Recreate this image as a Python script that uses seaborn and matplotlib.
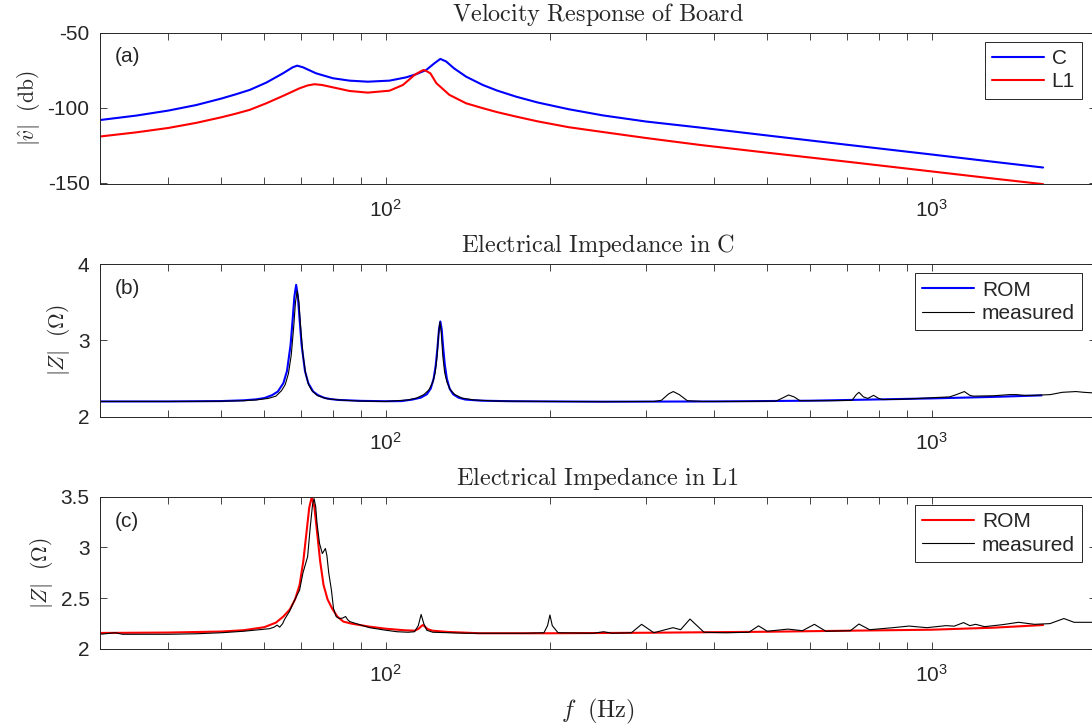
import matplotlib
matplotlib.use("Agg")
import matplotlib.pyplot as plt
import seaborn as sns
from matplotlib.ticker import NullFormatter, FixedLocator

# ---------------- data ----------------
# (a) velocity response, dB
freq_a_c = [30, 35, 40, 45, 50, 53, 56.4, 60.5, 64.9, 67.6, 68.9, 70.6, 74.6, 80.1, 85.9,
            92.8, 101.7, 109.1, 113.8, 118.7, 122.9, 126, 129.1, 133.5, 140.4, 150.7,
            160, 173.4, 190, 216.6, 250, 300, 376, 500, 700, 1000, 1300, 1600]
vel_c = [-108.3, -105.3, -102, -98.3, -94, -91.3, -88.2, -83.3, -77.1, -73.1, -72,
         -73.1, -77.1, -80.4, -82, -82.7, -82, -79.8, -77.7, -74.9, -70.4, -67.5, -69.2,
         -73.8, -79.3, -84.9, -88.6, -92.7, -96.6, -101.1, -105.2, -109.3, -113.3,
         -118.6, -124.8, -131.3, -136.2, -140]
freq_a_l1 = [30, 35, 40, 45, 50, 53, 56.4, 60.5, 64.9, 69.6, 72, 74.1, 76.5, 79, 85.9,
             92.8, 101.7, 107.6, 113, 116, 117.4, 118.8, 120.8, 123.9, 130.9, 140.4,
             150.7, 160, 173.4, 190, 216.6, 250, 300, 376, 500, 700, 1000, 1300, 1600]
vel_l1 = [-119.3, -116.5, -113.6, -110.2, -106.5, -104.2, -101.5, -97.1, -92.2, -87.1,
          -85.2, -84.4, -84.9, -86, -88.9, -90, -88.7, -84.9, -78.2, -75.8, -74.9, -75.6,
          -77.1, -83.7, -91.5, -97.1, -100.4, -103, -106, -109.2, -113.1, -116.3, -120.3,
          -124.9, -130.1, -136.1, -142.6, -147.4, -151.1]

# (b) impedance in C, ohm
freq_b_rom = [30, 40, 50, 55, 58, 60, 62, 63.5, 65, 66, 67, 67.6, 68.1, 68.6, 69.1, 69.6,
              70.2, 71.2, 72.2, 73.7, 75.2, 77.2, 79.2, 82, 90, 100, 107, 112, 116, 119,
              121, 122.5, 123.6, 124.5, 125.3, 126, 126.7, 127.5, 128.4, 129.5, 131, 133,
              136, 140, 150, 170, 200, 250, 400, 600, 1000, 1300, 1590]
z_c_rom = [2.2, 2.2, 2.205, 2.215, 2.228, 2.245, 2.283, 2.33, 2.44, 2.6, 2.94, 3.28, 3.58,
           3.73, 3.58, 3.28, 2.94, 2.6, 2.44, 2.33, 2.283, 2.248, 2.232, 2.22, 2.208,
           2.203, 2.205, 2.225, 2.25, 2.294, 2.37, 2.5, 2.68, 2.91, 3.15, 3.25, 3.15,
           2.91, 2.68, 2.5, 2.37, 2.294, 2.25, 2.225, 2.21, 2.203, 2.2, 2.197, 2.2, 2.21,
           2.24, 2.26, 2.28]
freq_b_meas = [30, 40, 50, 55, 58, 61, 63, 64.5, 65.5, 66.4, 67.2, 67.9, 68.4, 68.9, 69.4,
               69.9, 70.6, 71.4, 72.3, 73.3, 75, 78, 82, 90, 100, 110, 114, 117.5, 120,
               122, 123.3, 124.3, 125.1, 125.8, 126.5, 127.3, 128.3, 129.6, 131.5, 134,
               138, 145, 160, 200, 250, 310, 320, 330, 336.5, 345, 357, 380, 450, 519, 535,
               547, 560, 574, 650, 715, 728, 736, 750, 764, 783, 800, 812, 875, 950, 1006,
               1079, 1110, 1148, 1175, 1192, 1300, 1390, 1430, 1480, 1533, 1650, 1735,
               1838, 1900, 2000]
z_c_meas = [2.2, 2.2, 2.203, 2.21, 2.22, 2.24, 2.27, 2.342, 2.42, 2.565, 2.81, 3.18, 3.5,
            3.65, 3.5, 3.18, 2.81, 2.565, 2.42, 2.342, 2.278, 2.236, 2.22, 2.205, 2.2,
            2.22, 2.245, 2.29, 2.35, 2.45, 2.58, 2.8, 3.1, 3.24, 3.1, 2.8, 2.58, 2.45,
            2.35, 2.29, 2.245, 2.22, 2.205, 2.2, 2.197, 2.2, 2.215, 2.3, 2.33, 2.29, 2.21,
            2.2, 2.2, 2.205, 2.25, 2.285, 2.26, 2.21, 2.21, 2.215, 2.29, 2.32, 2.26, 2.24,
            2.28, 2.24, 2.225, 2.228, 2.24, 2.25, 2.26, 2.29, 2.33, 2.28, 2.27, 2.275,
            2.29, 2.29, 2.28, 2.28, 2.29, 2.32, 2.33, 2.32, 2.31]

# (c) impedance in L1, ohm
freq_c_rom = [30, 40, 50, 55, 60, 63, 65, 66.8, 68.3, 69.6, 70.7, 71.7, 72.5, 73.3, 74.1,
              74.9, 75.9, 77, 78.3, 79.8, 81.6, 83.7, 86.6, 93.5, 100, 108, 113, 115,
              116.3, 117, 117.8, 119.5, 122, 130, 148.6, 200, 300, 500, 700, 1000, 1300,
              1600]
z_l1_rom = [2.158, 2.162, 2.172, 2.185, 2.215, 2.26, 2.32, 2.39, 2.49, 2.63, 2.865, 3.16,
            3.395, 3.5, 3.395, 3.16, 2.865, 2.63, 2.49, 2.4, 2.32, 2.27, 2.25, 2.22, 2.2,
            2.185, 2.18, 2.2, 2.225, 2.236, 2.225, 2.195, 2.18, 2.168, 2.155, 2.155, 2.16,
            2.17, 2.18, 2.19, 2.21, 2.236]
freq_c_meas = [30, 32, 33, 40, 45, 50, 55, 60, 61.3, 62.5, 63.3, 64, 64.8, 65.3, 66.7, 68,
               69.6, 70.6, 72, 72.8, 73.5, 74, 74.5, 74.9, 75.7, 76.6, 77.2, 77.6, 78.1,
               78.7, 79.6, 80.3, 81.2, 82.3, 83.5, 84.5, 85.2, 86, 89.6, 93.5, 100, 105,
               110, 113, 114.8, 116.2, 117.5, 119, 122, 140, 180, 195, 198, 200, 202, 207,
               240, 250.8, 260, 282, 294.4, 310, 336, 347, 361, 383, 420, 463, 482, 500,
               546, 580, 610, 640, 710, 736, 770, 850, 909, 980, 1062, 1100, 1144, 1175,
               1204, 1250, 1350, 1443, 1543, 1647, 1747, 1823, 2000]
z_l1_meas = [2.145, 2.16, 2.145, 2.145, 2.15, 2.16, 2.175, 2.195, 2.2, 2.215, 2.235, 2.215,
             2.25, 2.29, 2.37, 2.47, 2.58, 2.75, 2.91, 3.2, 3.42, 3.48, 3.4, 3.24, 3.04,
             2.94, 2.97, 2.99, 2.92, 2.75, 2.58, 2.4, 2.32, 2.3, 2.305, 2.32, 2.29, 2.27,
             2.24, 2.21, 2.185, 2.17, 2.165, 2.17, 2.23, 2.34, 2.25, 2.185, 2.165, 2.155,
             2.155, 2.16, 2.23, 2.335, 2.23, 2.16, 2.155, 2.17, 2.155, 2.16, 2.243, 2.16,
             2.21, 2.19, 2.295, 2.165, 2.16, 2.165, 2.228, 2.175, 2.196, 2.18, 2.243, 2.175,
             2.18, 2.246, 2.19, 2.21, 2.226, 2.21, 2.23, 2.225, 2.26, 2.23, 2.243, 2.22,
             2.24, 2.263, 2.243, 2.25, 2.30, 2.263, 2.263]

# ---------------- style ----------------
sns.set_style("ticks")
plt.rcParams['font.family'] = ['Liberation Sans', 'DejaVu Sans']
plt.rcParams['mathtext.fontset'] = 'cm'
plt.rcParams['axes.unicode_minus'] = False

grey = '#262626'
W, H = 1092, 726
fig = plt.figure(figsize=(W / 100, H / 100), dpi=100)


def make_axes(top_px, bottom_px):
    left, right = 100, 1096
    return fig.add_axes([left / W, 1 - bottom_px / H, (right - left) / W,
                         (bottom_px - top_px) / H])


def style_axes(ax, ylim, yticks, title, ylabel, tag):
    ax.set_xscale('log')
    ax.set_xlim(30, 2000)
    ax.set_ylim(*ylim)
    ax.yaxis.set_major_locator(FixedLocator(yticks))
    ax.set_yticklabels([('%g' % t) for t in yticks])
    ax.xaxis.set_minor_formatter(NullFormatter())
    ax.tick_params(which='both', direction='in', top=True, right=True, length=5,
                   width=0.6, color=grey, labelsize=15, labelcolor=grey)
    ax.tick_params(axis='x', which='both', pad=11)
    ax.tick_params(axis='y', which='both', pad=7.5)
    for s in ax.spines.values():
        s.set_color(grey)
        s.set_linewidth(0.7)
        s.set_visible(True)
    ax.set_title(title, fontsize=17.5, pad=8.5)
    ax.set_ylabel(ylabel, fontsize=15.5, color=grey)
    ax.set_xlabel('')
    ax.text(0.015, 0.84, tag, transform=ax.transAxes, fontsize=15, va='center')


def add_legend(ax, top):
    ax.legend(loc='upper right', bbox_to_anchor=(0.986, top), borderaxespad=0,
              fontsize=15, frameon=True, fancybox=False, framealpha=1,
              edgecolor=grey, handlelength=2.5, handletextpad=0.35,
              borderpad=0.35, labelspacing=0.2).get_frame().set_linewidth(0.7)


# (a)
ax_a = make_axes(32.7, 184)
sns.lineplot(x=freq_a_c, y=vel_c, ax=ax_a, color='#0000ff', lw=1.5, label='C',
             estimator=None, sort=False)
sns.lineplot(x=freq_a_l1, y=vel_l1, ax=ax_a, color='#ff0000', lw=1.5, label='L1',
             estimator=None, sort=False)
style_axes(ax_a, (-151, -50), [-150, -100, -50],
           r'$\mathrm{Velocity\ Response\ of\ Board}$', r'$|\hat{v}|\ \ \mathrm{(db)}$', '(a)')
add_legend(ax_a, 0.94)

# (b)
ax_b = make_axes(264.3, 416.7)
sns.lineplot(x=freq_b_rom, y=z_c_rom, ax=ax_b, color='#0000ff', lw=1.5, label='ROM',
             estimator=None, sort=False)
sns.lineplot(x=freq_b_meas, y=z_c_meas, ax=ax_b, color='black', lw=0.8, label='measured',
             estimator=None, sort=False)
style_axes(ax_b, (2, 4), [2, 3, 4],
           r'$\mathrm{Electrical\ Impedance\ in\ C}$', r'$|Z|\ \ (\Omega)$', '(b)')
add_legend(ax_b, 0.94)

# (c)
ax_c = make_axes(496.7, 649)
sns.lineplot(x=freq_c_rom, y=z_l1_rom, ax=ax_c, color='#ff0000', lw=1.5, label='ROM',
             estimator=None, sort=False)
sns.lineplot(x=freq_c_meas, y=z_l1_meas, ax=ax_c, color='black', lw=0.8, label='measured',
             estimator=None, sort=False)
style_axes(ax_c, (2, 3.5), [2, 2.5, 3, 3.5],
           r'$\mathrm{Electrical\ Impedance\ in\ L1}$', r'$|Z|\ \ (\Omega)$', '(c)')
add_legend(ax_c, 0.945)
ax_c.set_xlabel(r'$f\ \ \mathrm{(Hz)}$', fontsize=17.5, labelpad=8)

fig.savefig('out.png', dpi=100)
